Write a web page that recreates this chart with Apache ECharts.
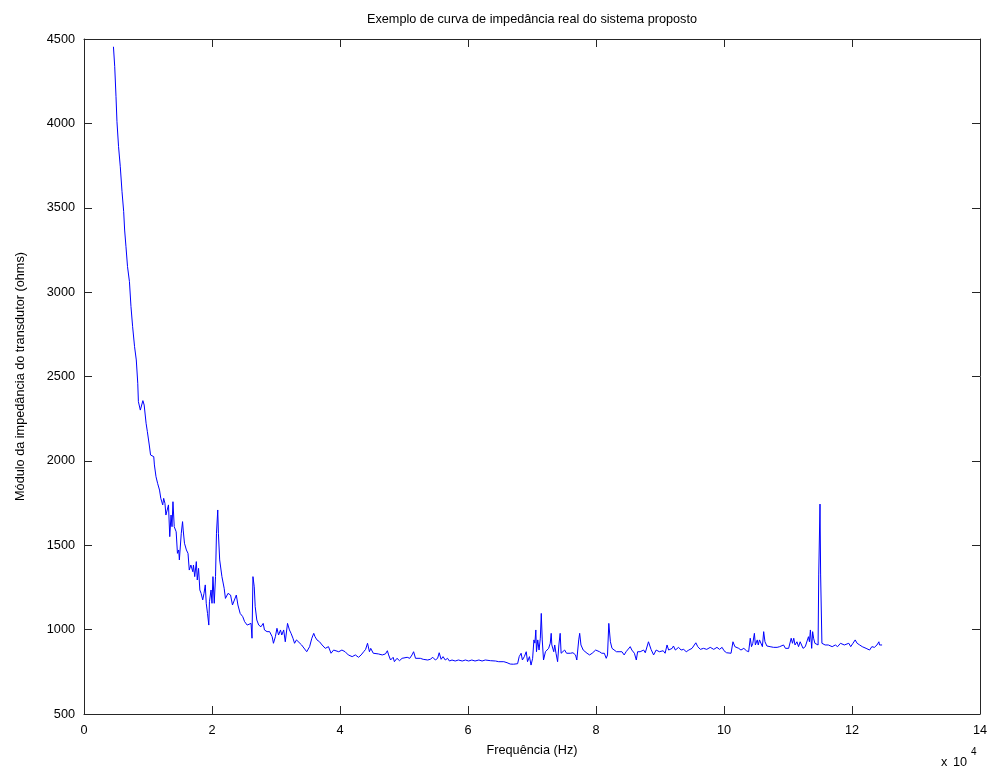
<!DOCTYPE html>
<html>
<head>
<meta charset="utf-8">
<script src="https://cdn.jsdelivr.net/npm/echarts@6/dist/echarts.min.js"></script>
<style>html,body{margin:0;padding:0;background:#fff}#c{width:994px;height:775px}</style>
</head>
<body>
<div id="c"></div>
<script>
// Frequency in units of 10^4 Hz
const freq = [
0.46,0.48,0.50,0.515,0.54,0.567,0.594,0.62,0.635,0.656,0.68,0.71,0.734,0.76,0.79,0.817,
0.84,0.85,0.88,0.92,0.94,0.97,0.99,1.02,1.04,1.09,1.10,1.125,1.15,1.18,1.20,1.23,1.245,1.265,1.28,1.32,1.34,1.36,1.375,1.39,1.41,1.44,1.46,1.48,1.49,1.52,1.54,1.55,1.57,1.60,1.625,1.645,1.67,1.70,1.71,1.73,1.755,1.77,1.79,1.81,1.83,1.855,1.875,1.895,1.91,1.93,1.95,1.96,1.985,2.0,2.015,2.035,2.055,2.07,2.09,2.10,2.12,
2.155,2.19,2.21,2.25,2.29,2.32,2.38,2.405,2.44,2.48,2.51,2.55,2.58,2.61,2.625,2.64,2.66,2.675,2.70,2.73,2.765,2.80,2.82,2.86,2.90,2.94,2.96,2.99,3.015,3.04,3.07,3.09,3.12,3.145,3.18,3.21,3.235,3.265,3.29,3.32,3.35,3.40,3.43,3.48,3.525,3.56,3.59,3.61,3.64,3.68,3.72,3.745,3.77,3.80,3.82,
3.86,3.90,3.93,3.98,4.03,4.08,4.13,4.19,4.24,4.29,4.33,4.37,4.40,4.43,4.46,4.48,4.52,4.55,4.60,4.66,4.71,4.74,4.76,4.79,4.83,4.85,4.89,4.93,4.97,5.00,5.05,5.09,5.125,5.15,5.18,5.21,5.255,5.30,5.33,5.37,5.41,5.45,5.49,5.525,5.55,5.58,5.61,5.645,5.68,5.71,5.75,5.80,5.85,5.91,5.96,6.01,6.06,6.11,6.17,6.22,6.27,6.35,6.43,6.48,
6.50,6.56,6.61,6.63,6.66,6.71,6.775,6.80,6.83,6.85,6.88,6.91,6.93,6.96,6.985,7.01,7.03,7.045,7.06,7.07,7.09,7.11,7.13,7.145,7.16,7.18,7.21,7.23,7.26,7.285,7.30,7.31,7.34,7.355,7.375,7.40,7.42,7.44,7.455,7.48,7.51,7.54,7.57,7.60,7.64,7.68,7.70,7.73,7.745,7.765,7.80,7.83,7.86,7.90,7.94,7.97,7.995,8.015,8.055,8.09,8.13,8.16,8.18,8.20,8.225,8.25,8.275,8.32,8.36,8.405,8.44,8.47,8.50,8.535,8.56,8.60,8.63,8.65,8.69,
8.745,8.77,8.82,8.86,8.90,8.94,8.99,9.05,9.08,9.11,9.135,9.19,9.21,9.24,9.27,9.29,9.33,9.37,9.41,9.45,9.50,9.525,9.56,9.59,9.63,9.68,9.73,9.785,9.84,9.89,9.93,9.97,10.0,10.04,10.07,10.11,10.14,10.17,10.19,10.23,10.265,10.31,10.35,10.385,10.41,10.43,10.45,10.475,10.49,10.52,10.535,10.555,10.58,10.60,10.62,10.64,10.67,10.72,10.775,10.83,
10.87,10.93,10.96,11.01,11.05,11.07,11.09,11.11,11.14,11.165,11.19,11.21,11.235,11.27,11.30,11.32,11.335,11.35,11.37,11.385,11.40,11.42,11.44,11.47,11.48,11.495,11.50,11.51,11.515,11.53,11.55,11.58,11.63,11.69,11.74,11.775,11.82,11.85,11.88,11.91,11.95,11.98,12.015,12.05,12.08,12.12,12.16,12.19,12.22,12.25,12.275,12.31,12.35,12.39,12.42,12.43,12.47
];
// Impedance magnitude (ohms)
const impedance = [
4454,4336,4158,4010,3862,3743,3595,3477,3368,3269,3151,3062,2914,2795,2677,2598,
2460,2351,2301,2357,2331,2223,2173,2094,2035,2025,1976,1906,1867,1827,1778,1739,1778,1748,1679,1739,1551,1679,1610,1758,1610,1580,1452,1472,1413,1571,1640,1590,1512,1472,1452,1353,1383,1343,1383,1314,1403,1294,1363,1235,1215,1176,1215,1265,1156,1096,1027,1165,1235,1156,1314,1156,1314,1571,1709,1571,1413,
1314,1245,1185,1215,1205,1146,1205,1146,1096,1077,1047,1027,1017,1037,949,1314,1254,1136,1057,1027,1017,1037,998,988,988,958,919,958,1008,968,998,968,998,928,1037,998,978,949,919,939,928,909,899,869,899,949,978,958,939,928,909,919,889,879,899,
860,879,889,869,879,869,850,840,850,836,850,869,883,919,869,889,860,863,856,850,856,875,850,820,836,810,830,816,830,824,836,830,850,869,830,820,830,824,830,820,824,836,820,830,863,824,840,820,830,814,820,814,820,814,820,814,820,814,820,814,820,816,814,810,
804,810,804,810,796,795,798,840,860,820,840,869,810,840,790,830,939,920,998,869,939,879,949,1096,939,820,869,860,889,919,978,909,869,909,860,810,909,978,860,860,879,860,869,860,863,850,820,939,978,909,879,889,860,850,860,860,879,869,869,860,860,830,850,1037,928,889,879,869,869,869,850,869,869,899,879,860,820,869,869,
879,863,928,883,850,879,869,875,860,909,879,889,903,879,869,895,879,883,869,879,889,899,922,899,883,889,883,895,883,895,883,895,875,863,860,860,928,899,903,889,879,889,875,869,949,899,919,978,909,939,909,939,928,899,988,928,903,899,895,895,
899,909,889,889,949,919,949,909,928,899,928,939,889,899,889,958,928,998,889,988,949,919,909,909,1324,1324,1744,1324,1324,919,928,909,909,899,909,899,919,928,909,919,919,899,919,939,919,909,899,909,889,899,879,899,895,909,928,909,909
];
const xTicks = [0,2,4,6,8,10,12,14];
const yTicks = [500,1000,1500,2000,2500,3000,3500,4000,4500];

const titleText = 'Exemplo de curva de impedância real do sistema proposto';
const xName = 'Frequência (Hz)';
const yName = 'Módulo da impedância do transdutor (ohms)';

const FONT = '"Liberation Sans", Arial, Helvetica, sans-serif';
const AX = '#262626';
const FS = 12.7;
const data = freq.map((f, i) => [f, impedance[i]]);

const axisCommon = {
  type: 'value',
  axisLine: { show: true, onZero: false, lineStyle: { color: AX, width: 1 } },
  axisTick: { show: true, inside: true, length: 8, lineStyle: { color: AX, width: 1 } },
  splitLine: { show: false }
};
const xBase = Object.assign({}, axisCommon, { min: xTicks[0], max: xTicks[xTicks.length-1], interval: 2 });
const yBase = Object.assign({}, axisCommon, { min: yTicks[0], max: yTicks[yTicks.length-1], interval: 500 });
const plain = v => String(v);

const chart = echarts.init(document.getElementById('c'), null, { renderer: 'canvas' });
chart.setOption({
  animation: false,
  backgroundColor: '#fff',
  textStyle: { fontFamily: FONT },
  title: {
    text: titleText, left: 527, top: 8, textAlign: 'center',
    textStyle: { fontSize: FS, fontWeight: 'normal', color: '#000', fontFamily: FONT }
  },
  grid: { left: 84, top: 39, width: 896, height: 675, containLabel: false },
  xAxis: [
    Object.assign({}, xBase, {
      position: 'bottom',
      name: xName, nameLocation: 'middle', nameGap: 30,
      nameTextStyle: { fontSize: FS, color: '#000', fontFamily: FONT },
      axisLabel: { show: true, margin: 10, fontSize: FS, color: '#000', fontFamily: FONT, formatter: plain }
    }),
    Object.assign({}, xBase, { position: 'top', axisLabel: { show: false } })
  ],
  yAxis: [
    Object.assign({}, yBase, {
      position: 'left',
      name: yName, nameLocation: 'middle', nameGap: 57, nameRotate: 90,
      nameTextStyle: { fontSize: FS, color: '#000', fontFamily: FONT },
      axisLabel: { show: true, margin: 9, fontSize: FS, color: '#000', fontFamily: FONT, formatter: plain }
    }),
    Object.assign({}, yBase, { position: 'right', axisLabel: { show: false } })
  ],
  graphic: [
    { type: 'text', x: 941, y: 756, style: { text: 'x', fontSize: FS, fontFamily: FONT, fill: '#000' } },
    { type: 'text', x: 953, y: 756, style: { text: '10', fontSize: FS, fontFamily: FONT, fill: '#000' } },
    { type: 'text', x: 971, y: 747, style: { text: '4', fontSize: 10, fontFamily: FONT, fill: '#000' } }
  ],
  series: [{
    type: 'line', xAxisIndex: 0, yAxisIndex: 0,
    data: data, showSymbol: false, symbol: 'none', smooth: false,
    lineStyle: { color: '#0000ff', width: 1 }, itemStyle: { color: '#0000ff' }
  }]
});
</script>
</body>
</html>
